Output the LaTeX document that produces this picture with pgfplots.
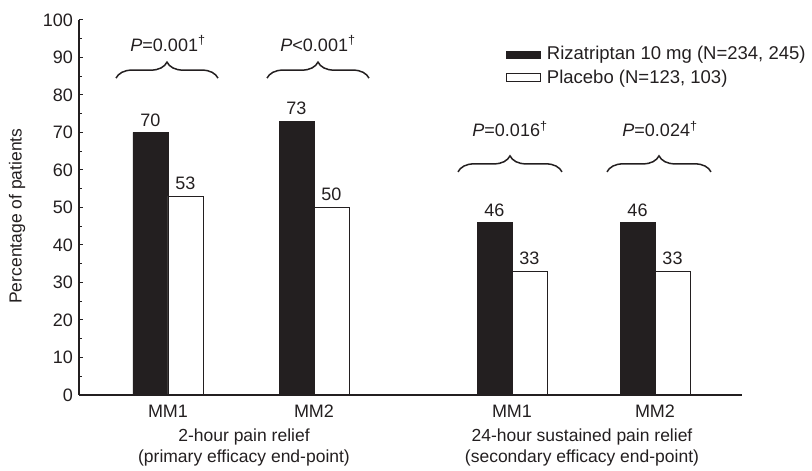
\documentclass[border=0pt]{standalone}
\usepackage{fontspec}
\setmainfont{Liberation Sans}
\usepackage{pgfplots}
\pgfplotsset{compat=1.18}
\usetikzlibrary{decorations.pathreplacing}
\definecolor{ink}{HTML}{231F20}
\begin{document}
\fontsize{18}{21}\selectfont
\begin{tikzpicture}
\useasboundingbox (-79pt,-76pt) rectangle (733pt,395pt);
\begin{axis}[
  at={(0pt,0pt)}, anchor=south west,
  width=663pt, height=375pt, scale only axis,
  xmin=79, xmax=742, ymin=0, ymax=100,
  clip=false, axis on top,
  axis x line*=bottom, axis y line*=left,
  x axis line style={line width=2.4pt, draw=ink, -},
  y axis line style={line width=1.3pt, draw=ink, -},
  ytick={0,10,...,100}, minor ytick={5,15,...,95},
  tick align=inside, major tick length=4pt, minor tick length=3pt,
  y tick style={line width=1pt, draw=ink},
  xtick={168,314,512,655}, xticklabels={MM1,MM2,MM1,MM2},
  x tick style={draw=none},
  /pgf/number format/assume math mode=true,
  tick label style={font=\fontsize{18}{21}\selectfont, text=ink},
  ylabel={Percentage of patients},
  ylabel style={at={(axis description cs:-0.0935,0.477)}, anchor=center, font=\fontsize{17.5}{20}\selectfont, text=ink},
  ybar=0pt, bar width=35,
  nodes near coords,
  every node near coord/.append style={font=\fontsize{18}{21}\selectfont, text=ink},
  legend style={at={(0.644,0.935)}, anchor=north west, draw=none, fill=none, inner sep=0pt, row sep=3pt, font=\fontsize{18.5}{21}\selectfont, text=ink},
  legend cell align=left,
]
\addplot[fill=ink, draw=ink, legend image code/.code={\draw[fill=ink,draw=ink] (0pt,-3.5pt) rectangle (34pt,3.5pt); \path (38pt,0pt);}]
  coordinates {(168,70) (314,73) (512,46) (655,46)};
\addlegendentry{Rizatriptan 10 mg (N=234, 245)}
\addplot[fill=white, draw=ink, line width=0.8pt, legend image code/.code={\draw[fill=white,draw=ink,line width=0.8pt] (0pt,-4pt) rectangle (34pt,4pt); \path (38pt,0pt);}]
  coordinates {(168,53) (314,50) (512,33) (655,33)};
\addlegendentry{Placebo (N=123, 103)}

\draw[ink, line width=1.5pt, decorate, decoration={brace, amplitude=16pt}] (axis cs:116,84.5) -- (axis cs:218,84.5);
\draw[ink, line width=1.5pt, decorate, decoration={brace, amplitude=16pt}] (axis cs:267,84.5) -- (axis cs:369,84.5);
\draw[ink, line width=1.5pt, decorate, decoration={brace, amplitude=16pt}] (axis cs:458,59.5) -- (axis cs:562,59.5);
\draw[ink, line width=1.5pt, decorate, decoration={brace, amplitude=16pt}] (axis cs:607,59.5) -- (axis cs:711,59.5);

\node[anchor=base, text=ink, font=\fontsize{18}{20}\selectfont] at (axis cs:168,91.7) {\textit{P}=0.001\textsuperscript{†}};
\node[anchor=base, text=ink, font=\fontsize{18}{20}\selectfont] at (axis cs:318,91.7) {\textit{P}<0.001\textsuperscript{†}};
\node[anchor=base, text=ink, font=\fontsize{18}{20}\selectfont] at (axis cs:510,68.8) {\textit{P}=0.016\textsuperscript{†}};
\node[anchor=base, text=ink, font=\fontsize{18}{20}\selectfont] at (axis cs:660,68.8) {\textit{P}=0.024\textsuperscript{†}};

\node[text=ink, font=\fontsize{17.5}{20}\selectfont] at (axis cs:244,-11.2) {2-hour pain relief};
\node[text=ink, font=\fontsize{17.5}{20}\selectfont] at (axis cs:244,-16.8) {(primary efficacy end-point)};
\node[text=ink, font=\fontsize{17.5}{20}\selectfont] at (axis cs:582,-11.2) {24-hour sustained pain relief};
\node[text=ink, font=\fontsize{17.5}{20}\selectfont] at (axis cs:582,-16.8) {(secondary efficacy end-point)};
\end{axis}
\end{tikzpicture}
\end{document}
